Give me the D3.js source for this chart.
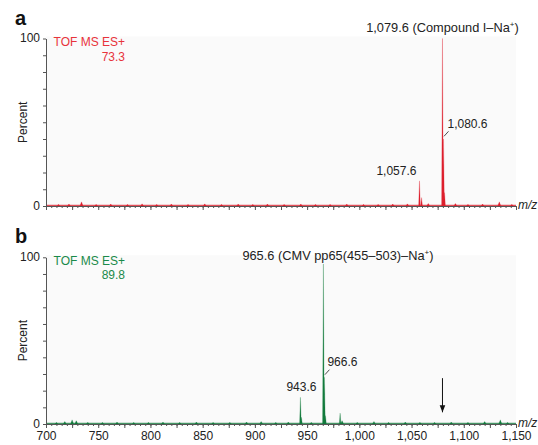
<!DOCTYPE html>
<meta charset="utf-8">
<head>
<style>
  body { margin: 0; background: #fff; }
  svg text { font-family: "Liberation Sans", Arial, sans-serif; }
  .axis path, .axis line { stroke: #555; }
  .axis text { font-size: 12px; fill: #222; }
</style>
</head>
<body>
<svg id="chart"></svg>
<script src="https://cdn.jsdelivr.net/npm/d3@7"></script>
<script>

// ---- data: [m/z, percent] ----
var peaksA = [[1057.6, 15], [1059.6, 5], [1079.6, 100], [1080.6, 40], [1081.6, 8]];
var noiseA = [[712, 1], [722, 1.2], [734, 2.5], [748, 1], [762, 1.2], [778, 1], [792, 1.3],
              [806, 1], [820, 1.2], [836, 1], [852, 1.3], [868, 1], [884, 1.2], [898, 1],
              [912, 1.2], [928, 1], [944, 1.2], [958, 1], [972, 1], [988, 1.2], [1004, 1],
              [1018, 1], [1032, 1.2], [1046, 1.3], [1066, 1.5], [1092, 1.5], [1104, 1],
              [1118, 1.2], [1134, 2.5], [1146, 1]];

var peaksB = [[943.6, 16], [944.6, 4], [965.6, 96], [966.6, 28], [967.6, 5], [981.6, 6.5]];
var noiseB = [[710, 1], [718, 1.5], [725, 2.5], [729, 2], [740, 1], [754, 1], [768, 1.2],
              [784, 1], [798, 1], [812, 1.2], [828, 1], [844, 1.2], [860, 1], [876, 1],
              [892, 1.2], [906, 1.5], [920, 1], [932, 1.2], [954, 1], [983.5, 2],
              [998, 1], [1014, 1.5], [1028, 1], [1044, 1.2], [1058, 1], [1072, 1],
              [1088, 1.2], [1104, 1], [1120, 1.5], [1135, 2.5], [1142, 1]];

var yTicks = [0, 10, 20, 30, 40, 50, 60, 70, 80, 90, 100];
var yLabels = [0, 100];
var xMinor = d3.range(700, 1151, 5);
var xMajor = d3.range(700, 1151, 25);
var xLabels = [700, 750, 800, 850, 900, 950, 1000, 1050, 1100, 1150];

var arrowMz = 1079.6;

var red = "#dd1f2c", green = "#127a3c";

var svg = d3.select("#chart")
    .attr("width", 538)
    .attr("height", 445);

var x = d3.scaleLinear().domain([700, 1150]).range([46, 516]);

var panels = [
  {letter: "a", peaks: peaksA, noise: noiseA, color: red, textColor: "#e8333b", top: 38.5, bottom: 206,
   info: "73.3", labels: true},
  {letter: "b", peaks: peaksB, noise: noiseB, color: green, textColor: "#1a8a4a", top: 257.3, bottom: 424,
   info: "89.8", labels: false}
];

// spectrum as max of narrow triangles around every peak / blip
function spectrum(list, halfW) {
  var pts = [];
  for (var m = 700; m <= 1150.001; m += 0.1) {
    var v = 0;
    list.forEach(function(p) {
      var w = p[1] > 3 ? halfW : 1.5;
      var d = Math.abs(m - p[0]);
      if (d < w) v = Math.max(v, p[1] * (1 - d / w));
    });
    pts.push([m, v]);
  }
  return pts;
}

panels.forEach(function(p) {
  var y = d3.scaleLinear().domain([0, 100]).range([p.bottom, p.top]);
  p.y = y;
  var g = svg.append("g");

  // faint plot background
  g.append("rect")
    .attr("x", x(700)).attr("y", p.top - 2)
    .attr("width", x(1150) - x(700)).attr("height", p.bottom - p.top + 2)
    .attr("fill", "#fafafa");

  var data = spectrum(p.peaks.concat(p.noise), 0.8);

  g.append("path")
    .datum(data)
    .attr("fill", p.color)
    .attr("d", d3.area().x(function(d) { return x(d[0]); }).y0(y(0)).y1(function(d) { return y(d[1]); }));

  g.append("path")
    .datum(data)
    .attr("fill", "none")
    .attr("stroke", p.color)
    .attr("stroke-opacity", 0.45)
    .attr("stroke-width", 0.6)
    .attr("d", d3.line().x(function(d) { return x(d[0]); }).y(function(d) { return y(d[1]); }));

  // baseline
  g.append("line")
    .attr("x1", x(700)).attr("x2", x(1150))
    .attr("y1", y(0) - 0.5).attr("y2", y(0) - 0.5)
    .attr("stroke", p.color).attr("stroke-width", 1.6).attr("stroke-opacity", 0.75);

  // axes
  g.append("g")
    .attr("class", "axis")
    .attr("transform", "translate(" + x(700) + ",0)")
    .call(d3.axisLeft(y).tickValues(yTicks).tickSize(3).tickSizeOuter(0).tickPadding(3)
      .tickFormat(function(d) { return yLabels.indexOf(d) >= 0 ? d : ""; }))
    .selectAll("text").attr("dy", "0.28em");

  g.append("g")
    .attr("class", "axis")
    .attr("transform", "translate(0," + y(0) + ")")
    .call(d3.axisBottom(x).tickValues(xMinor).tickSize(2).tickSizeOuter(0).tickFormat(""));

  g.append("g")
    .attr("class", "axis")
    .attr("transform", "translate(0," + y(0) + ")")
    .call(d3.axisBottom(x).tickValues(xMajor).tickSize(4).tickSizeOuter(0).tickPadding(3)
      .tickFormat(function(d) { return (!p.labels && xLabels.indexOf(d) >= 0) ? d3.format(",")(d) : ""; }));

  g.append("text")
    .attr("x", x(1150) + 2).attr("y", y(0) + 3)
    .attr("font-size", "12px").attr("font-style", "italic").attr("fill", "#222")
    .text("m/z");

  g.append("text")
    .attr("transform", "translate(" + 27 + "," + (p.top + p.bottom) / 2 + ") rotate(-90)")
    .attr("text-anchor", "middle")
    .attr("font-size", "12px").attr("fill", "#222")
    .text("Percent");

  g.append("text")
    .attr("x", 15).attr("y", p.top - 14)
    .attr("font-size", "20px").attr("font-weight", "bold").attr("fill", "#111")
    .text(p.letter);

  g.append("text")
    .attr("x", 125).attr("y", p.top + 7.5)
    .attr("text-anchor", "end")
    .attr("font-size", "12px").attr("fill", p.textColor)
    .text("TOF MS ES+");
  g.append("text")
    .attr("x", 125).attr("y", p.top + 22)
    .attr("text-anchor", "end")
    .attr("font-size", "12px").attr("fill", p.textColor)
    .text(p.info);
});

// peak annotations
function label(p, mz, pct, dx, dy, txt, anchor, size) {
  var t = svg.append("text")
    .attr("x", x(mz) + dx).attr("y", p.y(pct) + dy)
    .attr("text-anchor", anchor || "start")
    .attr("font-size", size || "12px").attr("fill", "#222");
  return t.text(txt);
}
function tick(p, mz, pct) {
  svg.append("line")
    .attr("x1", x(mz) + 0.5).attr("y1", p.y(pct) - 1)
    .attr("x2", x(mz) + 5).attr("y2", p.y(pct) - 6)
    .attr("stroke", "#222").attr("stroke-width", 0.8);
}

var pa = panels[0], pb = panels[1];

var t1 = label(pa, 1079.6, 100, 0, -7, "1,079.6 (Compound I\u2013Na", "middle", "12.8px");
t1.append("tspan").attr("dy", -5).attr("font-size", "8px").text("+");
t1.append("tspan").attr("dy", 5).text(")");
tick(pa, 1080.6, 41);
label(pa, 1080.6, 41, 4, -9, "1,080.6");
label(pa, 1057.6, 15, -3, -6, "1,057.6", "end");

var t2 = label(pb, 965.6, 96, -81, -4, "965.6 (CMV pp65(455\u2013503)\u2013Na", "start", "12.8px");
t2.append("tspan").attr("dy", -5).attr("font-size", "8px").text("+");
t2.append("tspan").attr("dy", 5).text(")");
tick(pb, 966.6, 29);
label(pb, 966.6, 29, 3, -10, "966.6");
label(pb, 943.6, 16, 16, -6, "943.6", "end");

// arrow where the compound I ion would be
svg.append("defs").append("marker")
    .attr("id", "head").attr("viewBox", "0 0 10 10")
    .attr("refX", 10).attr("refY", 5)
    .attr("markerWidth", 7).attr("markerHeight", 7)
    .attr("markerUnits", "userSpaceOnUse")
    .attr("orient", "auto")
  .append("path").attr("d", "M0,1 L10,5 L0,9 Z").attr("fill", "#111");

svg.append("line")
    .attr("x1", x(arrowMz)).attr("x2", x(arrowMz))
    .attr("y1", pb.y(27.5)).attr("y2", pb.y(7))
    .attr("stroke", "#111").attr("stroke-width", 1)
    .attr("marker-end", "url(#head)");

</script>
</body>
